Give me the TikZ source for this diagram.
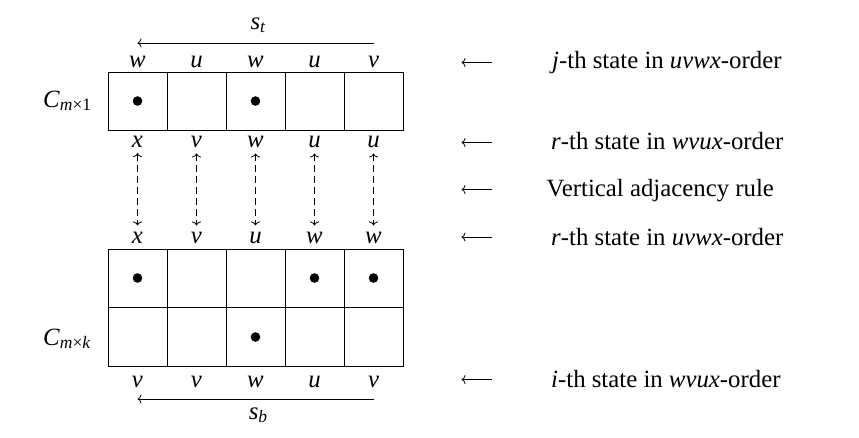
\documentclass[tikz,border=0pt]{standalone}
\usepackage{fontspec}
\setmainfont{Liberation Serif}
\usetikzlibrary{arrows.meta}
\newcommand{\mysub}[1]{\raisebox{-0.35ex}{\fontsize{17.5}{19}\selectfont #1}}
\begin{document}
\begin{tikzpicture}[x=1pt,y=-1pt,
  every node/.style={font=\fontsize{24.8}{28}\selectfont, inner sep=0pt},
  lbl/.style={anchor=base},
  txt/.style={anchor=base west},
  grid/.style={line width=0.9pt},
  tip/.style={-{To[length=4pt,width=9pt,line width=0.8pt]}},
  conn/.style={line width=0.8pt, tip},
  dconn/.style={line width=0.8pt, {To[length=4pt,width=9pt,line width=0.8pt]}-{To[length=4pt,width=9pt,line width=0.8pt]}, dash pattern=on 7pt off 4pt},
  dotc/.style={fill=black, draw=none}
]
\useasboundingbox (0,0) rectangle (859,437);

% grids
\draw[grid] (108,72) rectangle (403,130);
\foreach \x in {167,226,285,344} \draw[grid] (\x,72) -- (\x,130);
\draw[grid] (108,249) rectangle (403,366);
\draw[grid] (108,307.5) -- (403,307.5);
\foreach \x in {167,226,285,344} \draw[grid] (\x,249) -- (\x,366);

% dots
\foreach \x/\y in {137.5/101, 255.5/101, 137.5/278, 314.5/278, 373.5/278, 255.5/337}
  \fill[dotc] (\x,\y) circle (4.8);

% labels above top grid
\node[lbl] (a1) at (137.5,67) {\textit{w}};
\node[lbl] (a2) at (196.5,67) {\textit{u}};
\node[lbl] (a3) at (255.5,67) {\textit{w}};
\node[lbl] (a4) at (314.5,67) {\textit{u}};
\node[lbl] (a5) at (373.5,67) {\textit{v}};
% labels below top grid
\node[lbl] (b1) at (137.5,147) {\textit{x}};
\node[lbl] (b2) at (196.5,147) {\textit{v}};
\node[lbl] (b3) at (255.5,147) {\textit{w}};
\node[lbl] (b4) at (314.5,147) {\textit{u}};
\node[lbl] (b5) at (373.5,147) {\textit{u}};
% labels above bottom grid
\node[lbl] (c1) at (137.5,243) {\textit{x}};
\node[lbl] (c2) at (196.5,243) {\textit{v}};
\node[lbl] (c3) at (255.5,243) {\textit{u}};
\node[lbl] (c4) at (314.5,243) {\textit{w}};
\node[lbl] (c5) at (373.5,243) {\textit{w}};
% labels below bottom grid
\node[lbl] (d1) at (137.5,387) {\textit{v}};
\node[lbl] (d2) at (196.5,387) {\textit{v}};
\node[lbl] (d3) at (255.5,387) {\textit{w}};
\node[lbl] (d4) at (314.5,387) {\textit{u}};
\node[lbl] (d5) at (373.5,387) {\textit{v}};

% dashed vertical arrows
\foreach \i in {1,...,5}
  \draw[dconn] ([yshift=-6pt]b\i.south) -- ([yshift=6pt]c\i.north);

% horizontal arrows
\coordinate (tR) at (373.5,43);
\coordinate (tL) at (137.5,43);
\coordinate (bR) at (373.5,399);
\coordinate (bL) at (137.5,399);
\draw[conn] (tR) -- (tL);
\draw[conn] (bR) -- (bL);
\node[lbl] (st) at (258,29) {\textit{s}\mysub{\textit{t}}};
\node[lbl] (sb) at (258,419) {\textit{s}\mysub{\textit{b}}};

% C labels
\node[txt] (C1) at (43,107) {\textit{C}\mysub{\textit{m}×1}};
\node[txt] (Ck) at (43,345) {\textit{C}\mysub{\textit{m}×\textit{k}}};

% right annotations
\node[txt] (r1) at (552,68) {\textit{j}-th state in \textit{uvwx}-order};
\node[txt] (r2) at (551,149) {\textit{r}-th state in \textit{wvux}-order};
\node[txt] (r3) at (546.5,196) {Vertical adjacency rule};
\node[txt] (r4) at (551,245) {\textit{r}-th state in \textit{uvwx}-order};
\node[txt] (r5) at (551,387) {\textit{i}-th state in \textit{wvux}-order};

\foreach \i/\y in {1/62.5, 2/142.5, 3/189.5, 4/237, 5/379.5} {
  \coordinate (e\i) at (492,\y);
  \coordinate (f\i) at (461.5,\y);
  \draw[conn] (e\i) -- (f\i);
}
\end{tikzpicture}
\end{document}
